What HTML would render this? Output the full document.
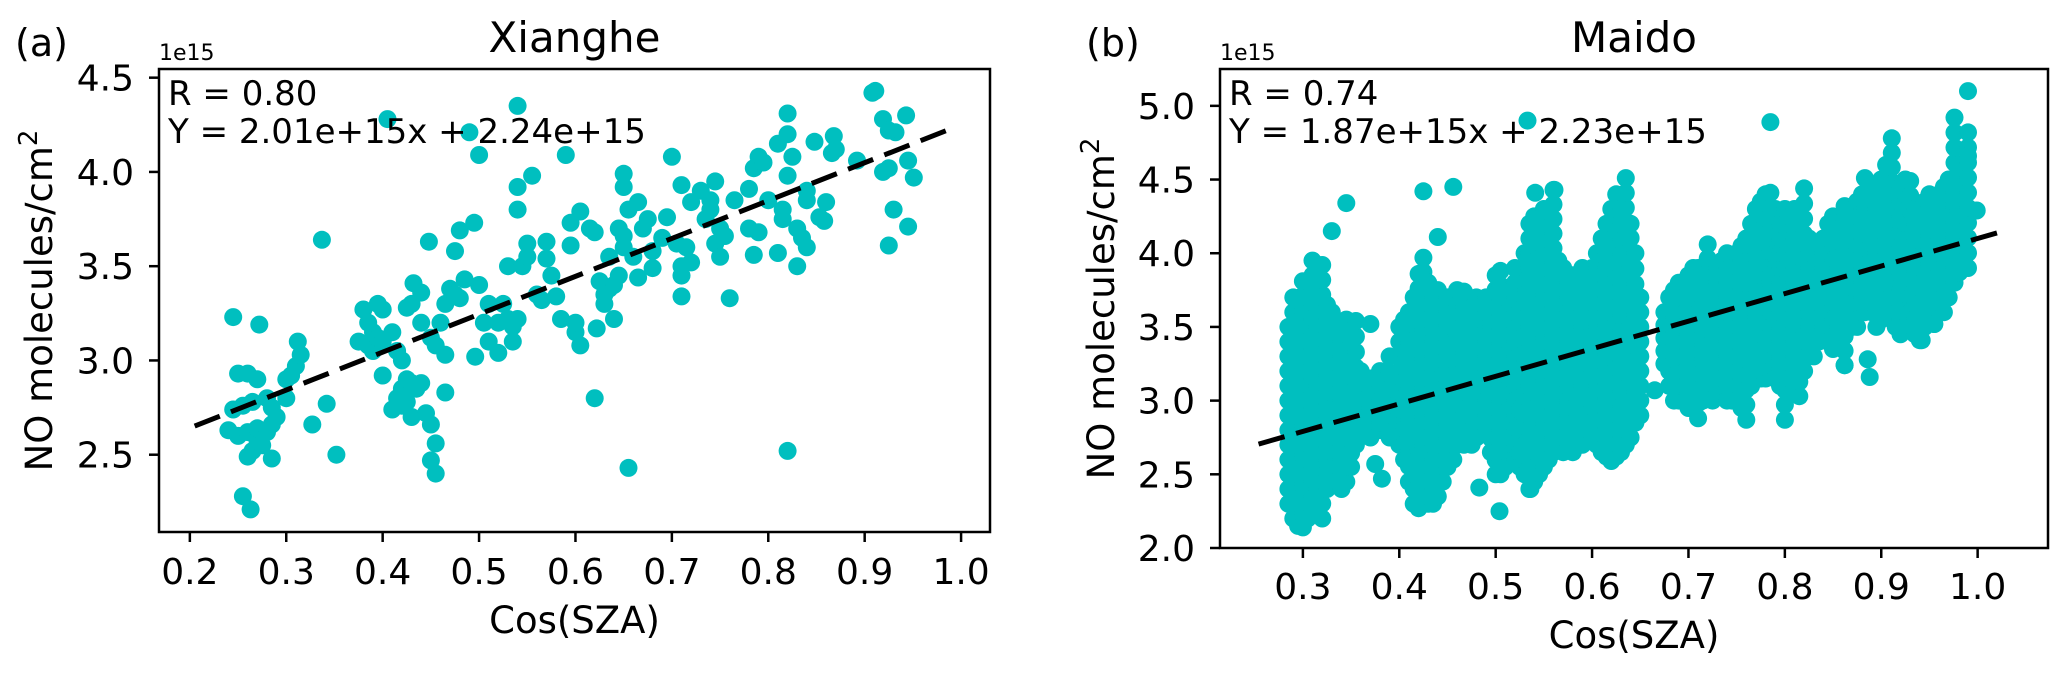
<!DOCTYPE html>
<html><head><meta charset="utf-8">
<style>
html,body{margin:0;padding:0;background:#fff;}
svg{display:block;font-family:"DejaVu Sans","Liberation Sans",sans-serif;}
</style></head>
<body>
<svg id="fig" width="2067" height="673" viewBox="0 0 2067 673" xmlns="http://www.w3.org/2000/svg">
<g id="pa"></g>
<g id="pb"></g>
</svg>
<script>
// ---- Panel (a) Xianghe data ----
const aX = [0.245,0.272,0.25,0.26,0.27,0.255,0.245,0.265,0.28,0.285,0.29,0.285,0.24,0.25,0.26,0.27,0.265,0.275,0.26,0.285,0.255,0.263,0.27,0.28,0.30,0.305,0.31,0.315,0.312,0.30,0.327,0.337,0.342,0.352,
0.375,0.38,0.385,0.39,0.395,0.40,0.39,0.385,0.395,0.40,0.40,0.405,
0.41,0.415,0.42,0.425,0.43,0.435,0.44,0.42,0.425,0.43,0.445,0.45,0.455,0.45,0.455,0.41,0.415,0.42,0.43,0.44,0.425,0.432,0.44,0.448,0.45,0.455,0.465,0.465,0.46,0.465,0.47,0.475,0.48,0.485,0.475,0.48,0.495,0.49,0.496,0.50,0.50,0.505,0.51,0.51,0.52,0.52,0.525,0.53,0.535,0.535,0.54,0.53,0.54,0.54,0.54,0.545,0.55,0.55,0.555,0.56,0.565,0.57,0.57,0.575,0.58,0.585,0.59,0.595,0.595,0.60,0.60,0.605,0.605,0.615,0.62,0.62,0.622,0.625,0.63,0.63,0.635,0.635,0.64,0.64,0.645,0.645,0.65,0.65,0.65,0.65,0.655,0.655,0.66,0.665,0.665,0.67,0.675,0.68,0.68,0.69,0.695,0.70,0.705,0.71,0.71,0.71,0.71,0.715,0.72,0.72,0.73,0.735,0.74,0.74,0.745,0.745,0.75,0.75,0.755,0.76,0.765,0.78,0.78,0.785,0.785,0.79,0.79,0.795,0.80,0.81,0.81,0.815,0.815,0.82,0.82,0.82,0.82,0.825,0.83,0.83,0.84,0.835,0.848,0.84,0.853,0.86,0.866,0.858,0.868,0.87,0.892,0.908,0.911,0.943,0.919,0.932,0.925,0.945,0.925,0.951,0.919,0.93,0.945,0.925,0.84,0.85];
const aY = [3.23,3.19,2.93,2.93,2.90,2.76,2.74,2.78,2.80,2.75,2.70,2.66,2.63,2.60,2.62,2.58,2.52,2.55,2.49,2.48,2.28,2.21,2.64,2.62,2.80,2.92,2.97,3.03,3.10,2.90,2.66,3.64,2.77,2.50,
3.10,3.27,3.20,3.15,3.30,3.27,3.05,3.08,3.12,3.10,2.92,4.28,
2.74,2.80,2.85,2.90,2.88,2.85,2.88,2.76,2.78,2.70,2.72,2.66,2.56,2.47,2.40,3.15,3.05,3.00,3.30,3.20,3.28,3.41,3.36,3.63,3.12,3.08,3.03,2.83,3.20,3.30,3.38,3.35,3.33,3.43,3.58,3.69,3.73,4.21,3.02,3.40,4.09,3.20,3.30,3.10,3.04,3.20,3.30,3.22,3.10,3.18,3.22,3.50,3.80,3.92,4.35,3.50,3.55,3.62,3.98,3.35,3.32,3.63,3.54,3.45,3.34,3.22,4.09,3.73,3.61,3.15,3.20,3.08,3.79,3.70,3.68,2.80,3.17,3.42,3.35,3.30,3.55,3.38,3.40,3.22,3.70,3.45,3.66,3.60,3.92,3.99,3.80,2.43,3.55,3.84,3.44,3.70,3.75,3.58,3.49,3.65,3.76,4.08,3.62,3.50,3.45,3.93,3.34,3.60,3.52,3.84,3.90,3.75,3.80,3.85,3.62,3.95,3.70,3.55,3.66,3.33,3.85,3.91,3.70,4.02,3.56,4.08,3.68,4.05,3.85,3.57,4.15,3.80,3.75,4.31,4.20,3.98,2.52,4.08,3.70,3.50,3.60,3.65,4.16,3.85,3.76,3.84,4.10,3.74,4.19,4.12,4.06,4.42,4.43,4.30,4.28,4.21,4.22,4.06,4.02,3.97,4.00,3.80,3.71,3.61,3.90];
const aXTicks = [0.2,0.3,0.4,0.5,0.6,0.7,0.8,0.9,1.0];
const aYTicks = [2.5,3.0,3.5,4.0,4.5];
const aFit = [2.01, 2.24];      // slope, intercept (1e15)
const aFitRange = [0.205, 0.99];

// ---- Panel (b) Maido data: dense column clouds (x, low, high) + isolated points ----
const bColX  = [0.285,0.29,0.295,0.30,0.305,0.31,0.315,0.32,0.325,0.33,0.335,0.34,0.345,0.35,0.355,0.36,0.37,0.38,0.39,0.40,0.405,0.41,0.415,0.42,0.425,0.43,0.435,0.44,0.445,0.45,0.456,0.46,0.467,0.475,0.48,0.49,0.495,0.50,0.505,0.51,0.515,0.52,0.525,0.53,0.535,0.54,0.545,0.55,0.555,0.56,0.565,0.57,0.575,0.58,0.585,0.59,0.595,0.60,0.605,0.61,0.615,0.62,0.625,0.63,0.635,0.64,0.645,0.65,0.675,0.68,0.685,0.69,0.70,0.705,0.71,0.715,0.72,0.725,0.73,0.735,0.74,0.745,0.75,0.755,0.76,0.765,0.77,0.775,0.78,0.785,0.79,0.795,0.80,0.805,0.81,0.815,0.82,0.825,0.83,0.835,0.84,0.845,0.85,0.855,0.862,0.87,0.875,0.88,0.883,0.89,0.895,0.90,0.905,0.911,0.915,0.92,0.925,0.93,0.935,0.94,0.945,0.95,0.955,0.96,0.965,0.97,0.976,0.98,0.985,0.99];
const bColLo = [2.3,2.2,2.15,2.14,2.2,2.25,2.3,2.2,2.4,2.45,2.5,2.4,2.45,2.55,2.7,2.8,2.75,2.8,2.75,2.7,2.6,2.45,2.3,2.27,2.3,2.3,2.3,2.35,2.45,2.55,2.6,2.7,2.7,2.7,2.75,2.8,2.65,2.5,2.5,2.55,2.6,2.6,2.55,2.5,2.4,2.45,2.5,2.55,2.6,2.65,2.7,2.65,2.7,2.65,2.7,2.7,2.75,2.75,2.7,2.65,2.62,2.59,2.62,2.65,2.7,2.75,2.85,2.9,3.25,3.1,3.0,3.0,2.95,3.0,2.88,3.0,3.1,3.0,3.05,3.1,3.0,3.0,3.05,2.95,2.87,3.1,3.15,3.15,3.15,3.2,3.15,3.1,2.87,3.05,3.1,3.03,3.2,3.3,3.3,3.4,3.5,3.4,3.35,3.5,3.24,3.5,3.5,3.6,3.6,3.6,3.5,3.55,3.6,3.6,3.5,3.45,3.5,3.5,3.45,3.41,3.5,3.55,3.52,3.6,3.6,3.7,3.8,3.87,3.9,3.9];
const bColHi = [3.5,3.7,3.65,3.81,3.6,3.95,3.6,3.92,3.65,3.6,3.5,3.4,3.55,3.3,3.54,3.2,3.15,3.2,3.3,3.5,3.55,3.6,3.7,3.86,3.97,3.8,3.7,3.75,3.6,3.7,3.6,3.75,3.74,3.6,3.7,3.7,3.5,3.85,3.88,3.7,3.75,3.9,3.8,4.0,4.2,4.25,4.0,4.3,4.05,4.43,3.95,3.9,3.8,3.85,3.8,3.9,3.85,3.9,4.0,4.1,4.2,4.3,4.4,4.3,4.51,4.2,4.0,3.7,3.6,3.7,3.75,3.8,3.85,3.9,3.9,3.85,4.06,3.8,3.9,3.95,4.0,3.9,4.0,4.05,4.1,4.2,4.3,4.35,4.4,4.41,4.3,4.2,4.3,4.2,4.3,4.2,4.44,4.1,4.0,4.05,4.1,4.2,4.25,4.2,4.32,4.3,4.35,4.4,4.51,4.45,4.4,4.5,4.6,4.78,4.4,4.45,4.5,4.49,4.3,4.3,4.35,4.4,4.35,4.4,4.45,4.5,4.92,4.6,4.6,4.82];
const bPtX = [0.33,0.345,0.37,0.375,0.38,0.382,0.425,0.44,0.456,0.483,0.504,0.536,0.533,0.541,0.561,0.553,0.665,0.785,0.862,0.888,0.886,0.942,0.955,0.981,0.999,0.99,0.99];
const bPtY = [4.15,4.34,3.52,2.57,2.85,2.47,4.42,4.11,4.45,2.41,2.25,2.40,4.90,4.41,4.43,4.29,3.07,4.89,3.24,3.16,3.28,3.41,3.52,3.87,4.29,5.10,4.66];
const bXTicks = [0.3,0.4,0.5,0.6,0.7,0.8,0.9,1.0];
const bYTicks = [2.0,2.5,3.0,3.5,4.0,4.5,5.0];
const bFit = [1.87, 2.23];
const bFitRange = [0.254, 1.032];

const NS = "http://www.w3.org/2000/svg";
const COLOR = "#00bfbf";
function mk(parent, tag, attrs, text){
  const e = document.createElementNS(NS, tag);
  for (const k in attrs) e.setAttribute(k, attrs[k]);
  if (text !== undefined) e.textContent = text;
  parent.appendChild(e);
  return e;
}
function fmt(v){ return v.toFixed(1); }

function panel(g, cfg){
  const sx = v => cfg.box[0] + (v - cfg.xlim[0]) / (cfg.xlim[1] - cfg.xlim[0]) * (cfg.box[2] - cfg.box[0]);
  const sy = v => cfg.box[3] - (v - cfg.ylim[0]) / (cfg.ylim[1] - cfg.ylim[0]) * (cfg.box[3] - cfg.box[1]);
  const [L, T, R, B] = cfg.box;
  const clipId = cfg.id + "-clip";
  const defs = mk(g, "defs", {});
  const cp = mk(defs, "clipPath", {id: clipId});
  mk(cp, "rect", {x: L, y: T, width: R - L, height: B - T});
  const pts = mk(g, "g", {"clip-path": "url(#" + clipId + ")"});
  
  
  for (const p of cfg.points()){
    const c = mk(pts, "circle", {cx: sx(p[0]).toFixed(1), cy: sy(p[1]).toFixed(1), r: 9, fill: COLOR});
    
    
  }
  const fit = mk(g, "line", {x1: sx(cfg.fitRange[0]), y1: sy(cfg.fit[0]*cfg.fitRange[0]+cfg.fit[1]),
    x2: sx(cfg.fitRange[1]), y2: sy(cfg.fit[0]*cfg.fitRange[1]+cfg.fit[1]),
    stroke: "#000", "stroke-width": 5, "stroke-dasharray": "27,12"});
  
  
  const frame = mk(g, "rect", {x: L, y: T, width: R - L, height: B - T, fill: "none", stroke: "#000", "stroke-width": 2.5});
  
  
  for (const t of cfg.xticks){
    const x = sx(t);
    mk(g, "line", {x1: x, y1: B, x2: x, y2: B + 10, stroke: "#000", "stroke-width": 2.5});
    const tl = mk(g, "text", {x: x, y: cfg.xtickY, "font-size": 36, "text-anchor": "middle"}, fmt(t));
    
    
  }
  for (const t of cfg.yticks){
    const y = sy(t);
    mk(g, "line", {x1: L - 10, y1: y, x2: L, y2: y, stroke: "#000", "stroke-width": 2.5});
    const tl = mk(g, "text", {x: L - 25, y: y + 13, "font-size": 36, "text-anchor": "end"}, fmt(t));
    
    
  }
  const e15 = mk(g, "text", {x: L, y: 60, "font-size": 22}, "1e15");
  
  
  const ti = mk(g, "text", {x: (L + R) / 2, y: 52, "font-size": 42, "text-anchor": "middle"}, cfg.title);
  
  
  const lab = mk(g, "text", {x: cfg.labX, y: 56, "font-size": 38}, cfg.label);
  
  
  const xl = mk(g, "text", {x: (L + R) / 2, y: cfg.xlabY, "font-size": 37, "text-anchor": "middle"}, "Cos(SZA)");
  
  
  const yl = mk(g, "text", {x: 0, y: 0, "font-size": 37, "text-anchor": "middle",
    transform: "translate(" + cfg.ylabX + "," + ((T + B) / 2) + ") rotate(-90)"});
  
  
  yl.appendChild(document.createTextNode("NO molecules/cm"));
  mk(yl, "tspan", {"font-size": 26, dy: -15}, "2");
  const a1 = mk(g, "text", {x: L + 9, y: 105, "font-size": 34}, "R = " + cfg.r);
  
  
  const a2 = mk(g, "text", {x: L + 9, y: 143, "font-size": 34},
    "Y = " + cfg.fit[0].toFixed(2) + "e+15x + " + cfg.fit[1].toFixed(2) + "e+15");
  
  
}

panel(document.getElementById("pa"), {
  id: "a", box: [159, 69, 990, 532], xlim: [0.168, 1.03], ylim: [2.09, 4.546],
  points: () => aX.map((x, i) => [x, aY[i]]),
  xticks: aXTicks, yticks: aYTicks, fit: aFit, fitRange: aFitRange,
  title: "Xianghe", label: "(a)", labX: 15, r: "0.80", xtickY: 584, xlabY: 633, ylabX: 52
});
panel(document.getElementById("pb"), {
  id: "b", box: [1220, 69, 2048, 548], xlim: [0.214, 1.073], ylim: [2.0, 5.25],
  points: () => {
    const out = [];
    bColX.forEach((x, i) => {
      const lo = bColLo[i], hi = bColHi[i];
      const n = Math.max(1, Math.round((hi - lo) / 0.1));
      for (let k = 0; k <= n; k++) out.push([x, lo + (hi - lo) * k / n]);
    });
    bPtX.forEach((x, i) => out.push([x, bPtY[i]]));
    return out;
  },
  xticks: bXTicks, yticks: bYTicks, fit: bFit, fitRange: bFitRange,
  title: "Maido", label: "(b)", labX: 1086, r: "0.74", xtickY: 599, xlabY: 648, ylabX: 1114
});
</script>
</body></html>
